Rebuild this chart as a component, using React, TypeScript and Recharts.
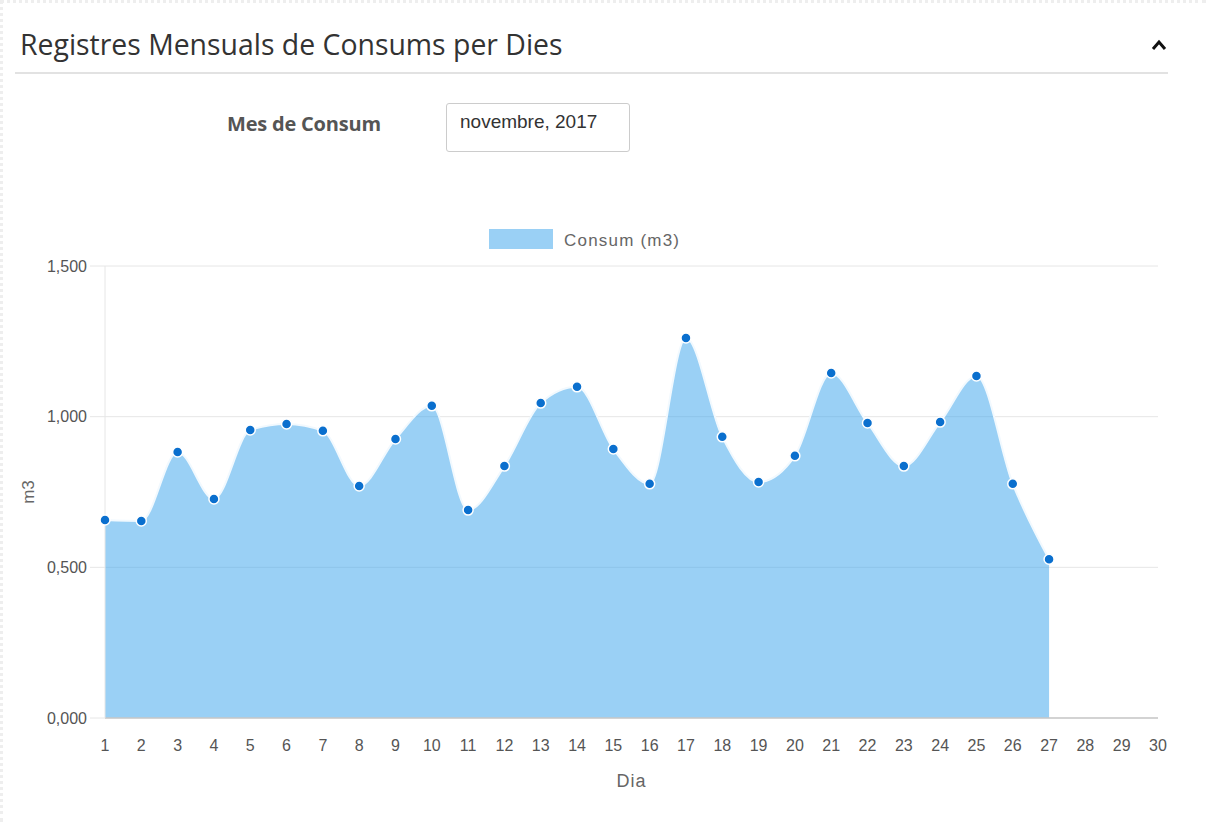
import React from 'react';
import { AreaChart, Area, XAxis, YAxis, CartesianGrid, Legend, Label } from 'recharts';

// dies del mes (novembre 2017)
const days = [
  1, 2, 3, 4, 5, 6, 7, 8, 9, 10, 11, 12, 13, 14, 15,
  16, 17, 18, 19, 20, 21, 22, 23, 24, 25, 26, 27, 28, 29, 30,
];

// consum diari en m3 (sense registre a partir del dia 28)
const consum: (number | null)[] = [
  0.657, 0.654, 0.883, 0.727, 0.956, 0.976, 0.953, 0.770, 0.926, 1.036,
  0.690, 0.836, 1.045, 1.099, 0.893, 0.777, 1.261, 0.933, 0.783, 0.870,
  1.145, 0.979, 0.836, 0.982, 1.135, 0.777, 0.527, null, null, null,
];

const yTicks = [0, 0.5, 1, 1.5];

const data = days.map((day, i) => ({ day, consum: consum[i] }));

const fmt = (v: number) => v.toFixed(3).replace('.', ',');

const LegendBox = () => (
  <div style={{ height: 37, display: 'flex', alignItems: 'flex-start', paddingLeft: 489 }}>
    <div style={{ width: 64, height: 20, background: 'rgba(54,162,235,0.5)' }} />
    <span
      style={{
        marginLeft: 11,
        marginTop: 2,
        fontFamily: '"Liberation Sans", Arial, sans-serif',
        fontSize: 17,
        letterSpacing: 1.2,
        lineHeight: '20px',
        color: '#666',
      }}
    >
      Consum (m3)
    </span>
  </div>
);

export default function App() {
  return (
    <div
      style={{
        position: 'absolute',
        left: 0,
        top: 0,
        width: 1206,
        height: 822,
        background: '#fff',
        overflow: 'hidden',
        fontFamily: '"Open Sans", sans-serif',
      }}
    >
      <div style={{ position: 'absolute', left: 0, top: 0, width: 1206, height: 0, borderTop: '3px dotted #eee' }} />
      <div style={{ position: 'absolute', left: 0, top: 0, width: 0, height: 822, borderLeft: '3px dotted #eee' }} />

      <div
        style={{
          position: 'absolute',
          left: 20,
          top: 30,
          fontSize: 28.4,
          lineHeight: '28px',
          color: '#333',
          whiteSpace: 'nowrap',
        }}
      >
        Registres Mensuals de Consums per Dies
      </div>
      <svg style={{ position: 'absolute', left: 1150, top: 38 }} width={18} height={14}>
        <polyline points="3,11 9,4 15,11" fill="none" stroke="#111" strokeWidth={3} />
      </svg>
      <div style={{ position: 'absolute', left: 15, top: 72, width: 1153, height: 2, background: '#e2e2e2' }} />

      <div
        style={{
          position: 'absolute',
          left: 227,
          top: 112,
          fontSize: 20,
          lineHeight: '24px',
          fontWeight: 700,
          letterSpacing: -0.2,
          color: '#555',
          whiteSpace: 'nowrap',
        }}
      >
        Mes de Consum
      </div>
      <div
        style={{
          position: 'absolute',
          left: 446,
          top: 103,
          width: 182,
          height: 47,
          border: '1px solid #ccc',
          borderRadius: 3,
          boxSizing: 'content-box',
          fontFamily: '"Liberation Sans", Arial, sans-serif',
          fontSize: 19,
          lineHeight: '47px',
          color: '#333',
        }}
      >
        <span style={{ marginLeft: 13, position: 'relative', top: -6 }}>novembre, 2017</span>
      </div>

      <div style={{ position: 'absolute', left: 0, top: 220 }}>
        <AreaChart width={1206} height={580} data={data} margin={{ top: 9, right: 48, bottom: 12, left: 0 }}>
          <CartesianGrid vertical={false} stroke="#e6e6e6" />
          <Legend verticalAlign="top" align="left" wrapperStyle={{ left: 0, width: 1206 }} content={() => <LegendBox />} />
          <XAxis
            dataKey="day"
            type="number"
            domain={[1, 30]}
            ticks={days}
            interval={0}
            height={70}
            tickLine={false}
            axisLine={{ stroke: '#c8c8c8', strokeWidth: 1.5 }}
            tickMargin={16}
            tick={{ fontSize: 16, fill: '#555', fontFamily: '"Liberation Sans", Arial, sans-serif' }}
          >
            <Label
              value="Dia"
              position="insideBottom"
              offset={1}
              style={{ fontSize: 18, fill: '#666', letterSpacing: 1, fontFamily: '"Liberation Sans", Arial, sans-serif' }}
            />
          </XAxis>
          <YAxis
            width={105}
            domain={[0, 1.5]}
            ticks={yTicks}
            tickFormatter={fmt}
            tickSize={15}
            tickMargin={3}
            tickLine={{ stroke: '#e6e6e6' }}
            axisLine={{ stroke: '#e6e6e6' }}
            tick={{ fontSize: 16, fill: '#555', fontFamily: '"Liberation Sans", Arial, sans-serif' }}
          >
            <Label
              value="m3"
              angle={-90}
              position="insideLeft"
              offset={28}
              style={{ textAnchor: 'middle', fontSize: 17, fill: '#666', fontFamily: '"Liberation Sans", Arial, sans-serif' }}
            />
          </YAxis>
          <Area
            type="monotone"
            dataKey="consum"
            stroke="#f2f9fe"
            strokeWidth={2}
            fill="rgb(54,162,235)"
            fillOpacity={0.5}
            dot={{ r: 5, fill: '#0a6fce', stroke: '#fff', strokeWidth: 1.5, fillOpacity: 1 }}
            activeDot={false}
            isAnimationActive={false}
          />
        </AreaChart>
      </div>
    </div>
  );
}
